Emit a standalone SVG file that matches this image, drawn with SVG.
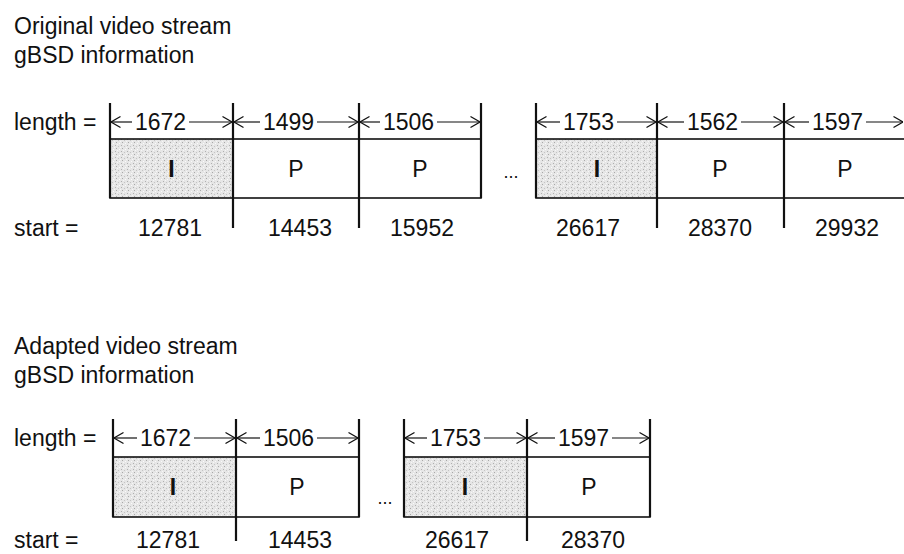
<svg xmlns="http://www.w3.org/2000/svg" width="904" height="554" viewBox="0 0 904 554">
<defs>
<style>
text{font-family:"Liberation Sans",Arial,sans-serif;font-size:23px;fill:#111}
.c{text-anchor:middle}
.dots{font-size:18px}
.bx{fill:#fff;stroke:#111;stroke-width:1.6}
.iframe{fill:url(#stip);stroke:#111;stroke-width:1.6}
.v{stroke:#111;stroke-width:2.2;fill:none}
.dim{stroke:#111;stroke-width:1.2;fill:none}
.ib{font-weight:bold}
</style>
<pattern id="stip" width="6" height="6" patternUnits="userSpaceOnUse">
<rect width="6" height="6" fill="#e6e6e6"/>
<rect x="1" y="1" width="1" height="1" fill="#b0b0b0"/>
<rect x="4" y="2" width="1" height="1" fill="#c4c4c4"/>
<rect x="2" y="4" width="1" height="1" fill="#a8a8a8"/>
<rect x="5" y="5" width="1" height="1" fill="#fafafa"/>
<rect x="3" y="0" width="1" height="1" fill="#f6f6f6"/>
<rect x="0" y="3" width="1" height="1" fill="#f6f6f6"/>
</pattern>
<marker id="arr" viewBox="0 0 10 12" refX="10" refY="6" markerUnits="userSpaceOnUse" markerWidth="10" markerHeight="12" orient="auto-start-reverse">
<path d="M0.5,0.5 L10,6 L0.5,11.5" fill="none" stroke="#111" stroke-width="1.2"/>
</marker>
</defs>
<rect width="904" height="554" fill="#fff"/>

<g id="titles">
<text x="14" y="34">Original video stream</text>
<text x="14" y="63">gBSD information</text>
<text x="14" y="354">Adapted video stream</text>
<text x="14" y="383">gBSD information</text>
</g>

<!-- Original stream -->
<g id="orig-labels">
<text x="14" y="130">length =</text>
<text x="14" y="236">start =</text>
</g>
<g id="o1"><rect class="iframe" x="110" y="139" width="123" height="59"/><text class="c ib" x="171.5" y="177">I</text><text class="c" x="170" y="236">12781</text></g>
<g id="o2"><rect class="bx" x="233" y="139" width="126" height="59"/><text class="c" x="296" y="177">P</text><text class="c" x="300" y="236">14453</text></g>
<g id="o3"><rect class="bx" x="359" y="139" width="122" height="59"/><text class="c" x="420" y="177">P</text><text class="c" x="422" y="236">15952</text></g>
<text class="c dots" x="511" y="178">...</text>
<g id="o4"><rect class="iframe" x="536" y="139" width="121" height="59"/><text class="c ib" x="597" y="177">I</text><text class="c" x="588" y="236">26617</text></g>
<g id="o5"><rect class="bx" x="657" y="139" width="127" height="59"/><text class="c" x="720" y="177">P</text><text class="c" x="720" y="236">28370</text></g>
<g id="o6"><rect class="bx" x="784" y="139" width="124" height="59"/><text class="c" x="845" y="177">P</text><text class="c" x="847" y="236">29932</text></g>

<g id="orig-ticks">
<path class="v" d="M110,103V198 M233,103V228 M359,103V228 M481,103V198 M536,103V198 M657,103V228 M784,103V228"/>
</g>
<g id="orig-dims">
<text x="135" y="130">1672</text>
<line class="dim" x1="111" y1="122" x2="132" y2="122" marker-start="url(#arr)"/>
<line class="dim" x1="189" y1="122" x2="232" y2="122" marker-end="url(#arr)"/>
<text x="263" y="130">1499</text>
<line class="dim" x1="234" y1="122" x2="260" y2="122" marker-start="url(#arr)"/>
<line class="dim" x1="317" y1="122" x2="358" y2="122" marker-end="url(#arr)"/>
<text x="383" y="130">1506</text>
<line class="dim" x1="360" y1="122" x2="380" y2="122" marker-start="url(#arr)"/>
<line class="dim" x1="437" y1="122" x2="480" y2="122" marker-end="url(#arr)"/>
<text x="563" y="130">1753</text>
<line class="dim" x1="537" y1="122" x2="560" y2="122" marker-start="url(#arr)"/>
<line class="dim" x1="617" y1="122" x2="656" y2="122" marker-end="url(#arr)"/>
<text x="687" y="130">1562</text>
<line class="dim" x1="658" y1="122" x2="684" y2="122" marker-start="url(#arr)"/>
<line class="dim" x1="741" y1="122" x2="783" y2="122" marker-end="url(#arr)"/>
<text x="812" y="130">1597</text>
<line class="dim" x1="785" y1="122" x2="809" y2="122" marker-start="url(#arr)"/>
<line class="dim" x1="866" y1="122" x2="903" y2="122" marker-end="url(#arr)"/>
</g>

<!-- Adapted stream -->
<g id="adapt-labels">
<text x="14" y="446">length =</text>
<text x="14" y="548">start =</text>
</g>
<g id="a1"><rect class="iframe" x="113" y="457" width="123" height="60"/><text class="c ib" x="173" y="495">I</text><text class="c" x="168" y="548">12781</text></g>
<g id="a2"><rect class="bx" x="236" y="457" width="123" height="60"/><text class="c" x="297" y="495">P</text><text class="c" x="300" y="548">14453</text></g>
<text class="c dots" x="385" y="504">...</text>
<g id="a3"><rect class="iframe" x="404" y="457" width="123" height="60"/><text class="c ib" x="465" y="495">I</text><text class="c" x="457" y="548">26617</text></g>
<g id="a4"><rect class="bx" x="527" y="457" width="123" height="60"/><text class="c" x="589" y="495">P</text><text class="c" x="593" y="548">28370</text></g>

<g id="adapt-ticks">
<path class="v" d="M113,419V517 M236,419V541 M359,419V517 M404,419V517 M527,419V541 M650,419V517"/>
</g>
<g id="adapt-dims">
<text x="140" y="446">1672</text>
<line class="dim" x1="114" y1="438" x2="137" y2="438" marker-start="url(#arr)"/>
<line class="dim" x1="194" y1="438" x2="235" y2="438" marker-end="url(#arr)"/>
<text x="263" y="446">1506</text>
<line class="dim" x1="237" y1="438" x2="260" y2="438" marker-start="url(#arr)"/>
<line class="dim" x1="317" y1="438" x2="358" y2="438" marker-end="url(#arr)"/>
<text x="430" y="446">1753</text>
<line class="dim" x1="405" y1="438" x2="427" y2="438" marker-start="url(#arr)"/>
<line class="dim" x1="484" y1="438" x2="526" y2="438" marker-end="url(#arr)"/>
<text x="558" y="446">1597</text>
<line class="dim" x1="528" y1="438" x2="555" y2="438" marker-start="url(#arr)"/>
<line class="dim" x1="612" y1="438" x2="649" y2="438" marker-end="url(#arr)"/>
</g>
</svg>
